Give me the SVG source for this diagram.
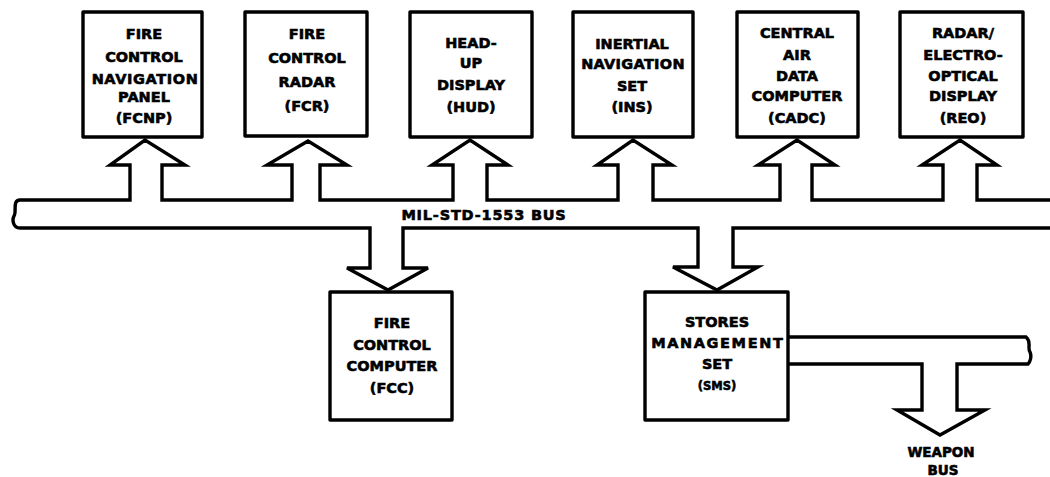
<svg xmlns="http://www.w3.org/2000/svg" width="1050" height="477" viewBox="0 0 1050 477">
<style>
.box{fill:#fff;stroke:#000;stroke-width:3.4;stroke-linejoin:round}
.bus{fill:#fff;stroke:#000;stroke-width:3.4;stroke-linejoin:miter}
text{font-family:"DejaVu Sans","Liberation Sans",sans-serif;font-weight:bold;font-size:14.5px;fill:#000;stroke:#000;stroke-width:0.6px;text-anchor:middle}
</style>
<rect width="1050" height="477" fill="#fff"/>
<g id="connectors">
<path id="milbus" class="bus" d="M1053 200 L977 200 L977 165 L997 165 L960 140 L922 165 L943 165 L943 200 L812 200 L812 165 L835 165 L797 140 L758 165 L780 165 L780 200 L653 200 L653 165 L672 165 L633 140 L597 165 L618 165 L618 200 L487 200 L487 165 L508 165 L470 140 L432 165 L453 165 L453 200 L320 200 L320 165 L347 165 L308 141 L267 165 L292 165 L292 200 L162 200 L162 165 L185 165 L145 140 L110 165 L130 165 L130 200 L20 200 C12 200 17 212 14 216 C12 220 13 228 20 228 L370 228 L370 268 L347 268 L388 290 L428 268 L403 268 L403 228 L698 228 L698 267 L673 267 L717 290 L758 267 L733 267 L733 228 L1053 228"/>
<path id="weaponbus" class="bus" d="M788 337 L1026 337 C1032 342 1027 348 1030 352 C1032 357 1030 362 1028 364 L957 364 L957 410 L985 410 L940 435 L897 410 L922 410 L922 364 L788 364"/>
<text x="484" y="220" style="letter-spacing:0.8px">MIL-STD-1553 BUS</text>
<text x="941" y="457" style="font-size:13.5px">WEAPON</text>
<text x="943" y="475" style="font-size:13.5px">BUS</text>
</g>
<g id="fcnp">
<rect class="box" x="83" y="12" width="119" height="125"/>
<text x="144" y="39">FIRE</text>
<text x="144" y="62">CONTROL</text>
<text x="145" y="84" style="letter-spacing:0.6px">NAVIGATION</text>
<text x="144" y="102">PANEL</text>
<text x="144" y="123">(FCNP)</text>
</g>
<g id="fcr">
<rect class="box" x="245" y="12" width="122" height="124"/>
<text x="307" y="39">FIRE</text>
<text x="307" y="63">CONTROL</text>
<text x="307" y="87">RADAR</text>
<text x="307" y="111">(FCR)</text>
</g>
<g id="hud">
<rect class="box" x="410" y="12" width="122" height="125"/>
<text x="471" y="48">HEAD-</text>
<text x="471" y="68">UP</text>
<text x="471" y="90">DISPLAY</text>
<text x="471" y="112">(HUD)</text>
</g>
<g id="ins">
<rect class="box" x="573" y="12" width="120" height="125"/>
<text x="632" y="49">INERTIAL</text>
<text x="633" y="69" style="letter-spacing:0.3px">NAVIGATION</text>
<text x="632" y="91">SET</text>
<text x="632" y="112">(INS)</text>
</g>
<g id="cadc">
<rect class="box" x="737" y="12" width="121" height="125"/>
<text x="797" y="38">CENTRAL</text>
<text x="797" y="60">AIR</text>
<text x="797" y="81">DATA</text>
<text x="797" y="101">COMPUTER</text>
<text x="797" y="123">(CADC)</text>
</g>
<g id="reo">
<rect class="box" x="900" y="12" width="123" height="125"/>
<text x="963" y="38">RADAR/</text>
<text x="963" y="60">ELECTRO-</text>
<text x="963" y="81">OPTICAL</text>
<text x="963" y="101">DISPLAY</text>
<text x="963" y="123">(REO)</text>
</g>
<g id="fcc">
<rect class="box" x="330" y="292" width="122" height="128"/>
<text x="392" y="328">FIRE</text>
<text x="392" y="350">CONTROL</text>
<text x="392" y="371">COMPUTER</text>
<text x="392" y="393">(FCC)</text>
</g>
<g id="sms">
<rect class="box" x="645" y="292" width="143" height="128"/>
<text x="717" y="327">STORES</text>
<text x="717.8" y="348" style="letter-spacing:1.6px">MANAGEMENT</text>
<text x="717" y="369">SET</text>
<text x="717" y="390" style="font-size:11.5px">(SMS)</text>
</g>
</svg>
